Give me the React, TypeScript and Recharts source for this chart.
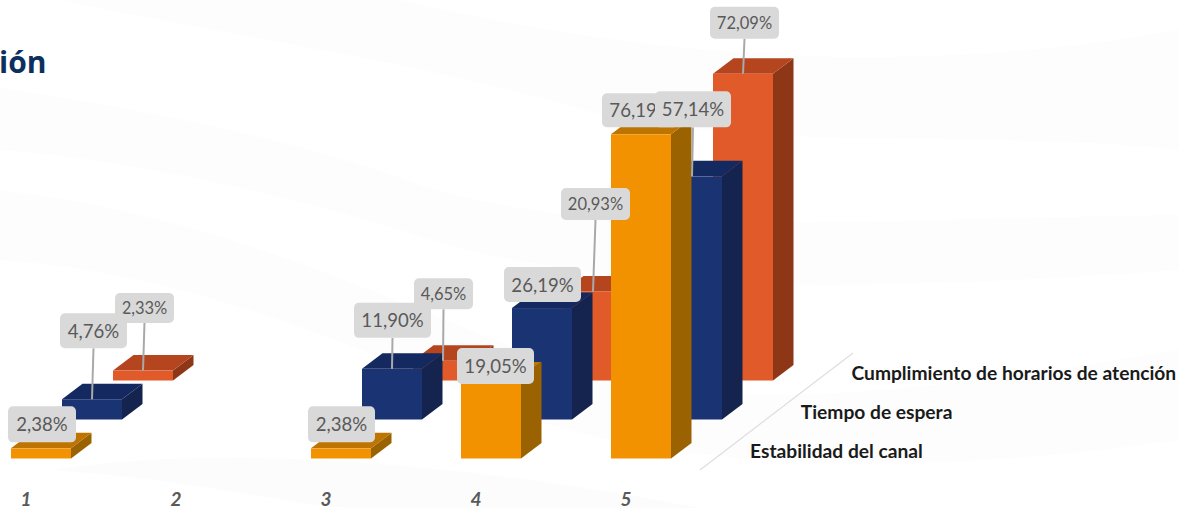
import React from "react";
import { BarChart, Bar, XAxis, YAxis, LabelList } from "recharts";

// Survey scores per day-part, one list per service attribute.
const categories = ["1", "2", "3", "4", "5"];
const estabilidad = [2.38, null, 2.38, 19.05, 76.19];
const tiempo = [4.76, null, 11.9, 26.19, 57.14];
const cumplimiento = [2.33, null, 4.65, 20.93, 72.09];
const depthLabels = ["Cumplimiento de horarios de atención", "Tiempo de espera", "Estabilidad del canal"];
const titleFragment = "ión";

const rows = categories.map((category, i) => ({
  category,
  estabilidad: estabilidad[i],
  tiempo: tiempo[i],
  cumplimiento: cumplimiento[i],
}));

const WIDTH = 1229;
const HEIGHT = 508;
const SHIFT_X = 51;
const SHIFT_Y = 39;
const DEPTH_X = 20.5;
const DEPTH_Y = 15.5;

type Callout = { dx: number; top: number; w: number; h: number; leader?: boolean };

type Series = {
  key: string;
  row: number;
  front: string;
  topFace: string;
  side: string;
  fontSize: number;
  callouts: Callout[];
};

// row: how many rows back from the front of the 3D floor.
// callouts: one per drawn bar, in category order (empty categories have none).
const estabilidadSeries: Series = {
  key: "estabilidad",
  row: 0,
  front: "#F29200",
  topFace: "#BE7400",
  side: "#9A6200",
  fontSize: 18.6,
  callouts: [
    { dx: 1, top: -42, w: 68, h: 36 },
    { dx: 0.5, top: -42, w: 67, h: 36 },
    { dx: 4.5, top: -29.5, w: 77, h: 36 },
    { dx: -0.5, top: -41, w: 77, h: 34 },
  ],
};
const tiempoSeries: Series = {
  key: "tiempo",
  row: 1,
  front: "#1A3373",
  topFace: "#13295F",
  side: "#14244F",
  fontSize: 18.6,
  callouts: [
    { dx: 1.5, top: -86, w: 67, h: 35, leader: true },
    { dx: 0.5, top: -66, w: 77, h: 35, leader: true },
    { dx: 0.5, top: -41, w: 77, h: 35 },
    { dx: 1, top: -85, w: 76, h: 36, leader: true },
  ],
};
const cumplimientoSeries: Series = {
  key: "cumplimiento",
  row: 2,
  front: "#E05A2A",
  topFace: "#B5451F",
  side: "#8E3717",
  fontSize: 16.5,
  callouts: [
    { dx: 1.5, top: -77.5, w: 59, h: 30, leader: true },
    { dx: 0.5, top: -82.5, w: 59, h: 31, leader: true },
    { dx: 2.5, top: -103.5, w: 69, h: 32, leader: true },
    { dx: 1.5, top: -67, w: 69, h: 32, leader: true },
  ],
};

const drawOrder = [cumplimientoSeries, tiempoSeries, estabilidadSeries];
const calloutOrder = [cumplimientoSeries, estabilidadSeries, tiempoSeries];

const formatPercent = (v: number) => `${v.toFixed(2).replace(".", ",")}%`;

// Extruded bar: front rectangle plus top and side parallelograms.
function Box3D(props: any, s: Series) {
  const { x, y, width, height, value } = props;
  const v = Array.isArray(value) ? value[1] : value;
  if (v == null || !(height > 0)) return <g />;
  const r = x + width;
  const b = y + height;
  return (
    <g>
      <polygon
        points={`${r},${y} ${r + DEPTH_X},${y - DEPTH_Y} ${r + DEPTH_X},${b - DEPTH_Y} ${r},${b}`}
        fill={s.side}
      />
      <polygon
        points={`${x},${y} ${x + DEPTH_X},${y - DEPTH_Y} ${r + DEPTH_X},${y - DEPTH_Y} ${r},${y}`}
        fill={s.topFace}
      />
      <rect x={x} y={y} width={width} height={height} fill={s.front} />
    </g>
  );
}

function renderCallout(props: any, s: Series) {
  const { x, y, width, value, index } = props;
  const c = s.callouts[index];
  if (value == null || !c) return <g />;
  const cx = x + width / 2;
  const boxX = cx + c.dx - c.w / 2;
  const boxY = y + c.top;
  return (
    <g>
      {c.leader && (
        <line x1={cx + c.dx} y1={boxY + c.h} x2={cx} y2={y} stroke="#A9A9A9" strokeWidth={2} />
      )}
      <rect x={boxX} y={boxY} width={c.w} height={c.h} rx={5} fill="#D9D9D9" />
      <text
        x={cx + c.dx}
        y={boxY + c.h / 2}
        textAnchor="middle"
        dominantBaseline="central"
        fontFamily="Lato, sans-serif"
        fontSize={s.fontSize}
        fill="#595959"
      >
        {formatPercent(value)}
      </text>
    </g>
  );
}

function CategoryTick({ x, payload }: any) {
  return (
    <text
      x={x - 15}
      y={505.5}
      textAnchor="middle"
      fontFamily="Lato, sans-serif"
      fontSize={19}
      fontStyle="italic"
      fontWeight={700}
      fill="#595959"
    >
      {payload.value}
    </text>
  );
}

// Each row of the 3D floor gets its own axes, inset so the row sits further back and to the right.
function axesFor(s: Series, suffix: string, showTicks: boolean) {
  const id = `${s.key}${suffix}`;
  return [
    <XAxis
      key={`x-${id}`}
      xAxisId={id}
      dataKey="category"
      hide={!showTicks}
      height={49.5}
      axisLine={false}
      tickLine={false}
      interval={0}
      tick={CategoryTick}
      padding={{ left: s.row * SHIFT_X, right: (2 - s.row) * SHIFT_X }}
    />,
    <YAxis
      key={`y-${id}`}
      yAxisId={id}
      hide
      type="number"
      domain={[0, 80]}
      padding={{ bottom: s.row * SHIFT_Y, top: (2 - s.row) * SHIFT_Y }}
    />,
  ];
}

export default function App() {
  return (
    <div style={{ position: "absolute", left: 0, top: 0, width: 1179, height: 508, overflow: "hidden", background: "#fff" }}>
      <svg width={1179} height={508} style={{ position: "absolute", left: 0, top: 0 }}>
        <path d="M60,0 C250,40 420,60 620,120 C800,150 1000,130 1179,150 L1179,30 C950,70 700,70 400,0 Z" fill="#FDFDFD" />
        <path d="M0,88 C150,110 300,140 420,185 C600,240 800,220 1179,215 L1179,270 C900,290 600,300 400,230 C250,185 120,160 0,150 Z" fill="#FDFDFD" />
        <path d="M0,190 C200,215 320,270 520,350 C640,400 760,420 1179,350 L1179,440 C900,480 640,470 480,400 C300,320 150,270 0,260 Z" fill="#FDFDFD" />
        <path d="M50,470 C200,480 300,508 360,508 L700,508 C500,470 250,440 50,470 Z" fill="#FCFCFC" />
        <line x1={700} y1={470} x2={853} y2={353} stroke="#DEDEDE" strokeWidth={1.2} />
      </svg>
      <div style={{ position: "absolute", left: -50, top: 0 }}>
        <BarChart
          width={WIDTH}
          height={HEIGHT}
          data={rows}
          barSize={60}
          margin={{ left: 16, right: WIDTH - 16 - 852, top: 40.1, bottom: 0 }}
        >
          {axesFor(estabilidadSeries, "", true)}
          {axesFor(tiempoSeries, "", false)}
          {axesFor(cumplimientoSeries, "", false)}
          {axesFor(estabilidadSeries, "-callout", false)}
          {axesFor(tiempoSeries, "-callout", false)}
          {axesFor(cumplimientoSeries, "-callout", false)}
          {drawOrder.map((s) => (
            <Bar
              key={s.key}
              dataKey={s.key}
              xAxisId={s.key}
              yAxisId={s.key}
              isAnimationActive={false}
              fill={s.front}
              shape={(p: any) => Box3D(p, s)}
            />
          ))}
          {calloutOrder.map((s) => (
            <Bar
              key={`${s.key}-callout`}
              dataKey={s.key}
              xAxisId={`${s.key}-callout`}
              yAxisId={`${s.key}-callout`}
              isAnimationActive={false}
              fill="none"
              shape={() => <g />}
            >
              <LabelList dataKey={s.key} content={(p: any) => renderCallout(p, s)} />
            </Bar>
          ))}
        </BarChart>
      </div>
      <svg width={1179} height={508} style={{ position: "absolute", left: 0, top: 0, pointerEvents: "none" }}>
        <text x={-1} y={73} fontFamily="'Open Sans', sans-serif" fontWeight={700} fontSize={30} fill="#0B2F5E">
          {titleFragment}
        </text>
        {depthLabels.map((t, i) => (
          <text
            key={t}
            x={851.5 - i * 50.7}
            y={380 + i * 39}
            fontFamily="Lato, sans-serif"
            fontWeight={700}
            fontSize={19.2}
            fill="#1A1A1A"
          >
            {t}
          </text>
        ))}
      </svg>
    </div>
  );
}
